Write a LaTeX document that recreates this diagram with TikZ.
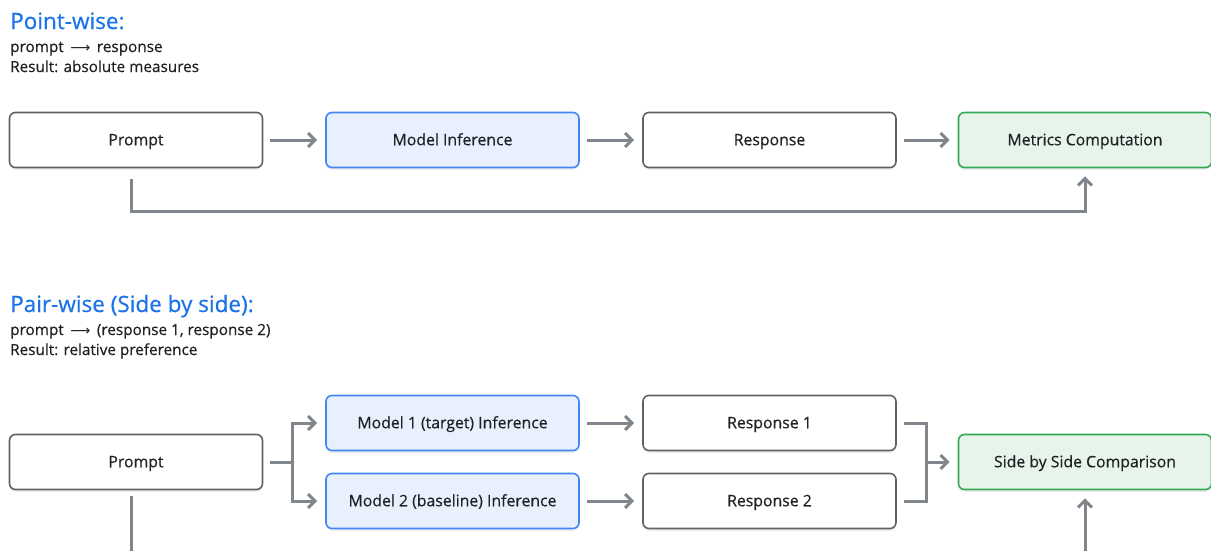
\documentclass[tikz,border=0pt]{standalone}
\usepackage{fontspec}
\setmainfont{Open Sans}
\newfontfamily\medfont{Open Sans}[FakeBold=0.5]
\newfontfamily\arrowfont{DejaVu Sans}
\usetikzlibrary{arrows.meta,shadows}

\definecolor{linegray}{HTML}{80868B}
\definecolor{boxgray}{HTML}{5F6368}
\definecolor{inkgray}{HTML}{202124}
\definecolor{titleblue}{HTML}{1A73E8}
\definecolor{modelblue}{HTML}{4285F4}
\definecolor{modelfill}{HTML}{E8F0FE}
\definecolor{metricgreen}{HTML}{34A853}
\definecolor{metricfill}{HTML}{E6F4EA}

\newcommand{\flowarrow}{\,{\arrowfont\fontsize{14}{16}\selectfont ⟶}\,}

\tikzset{
	box/.style={rectangle,rounded corners=6pt,draw=boxgray,line width=1.6pt,
		fill=white,minimum width=253pt,minimum height=55pt,text=inkgray,
		text height=11pt,text depth=0.5pt,
		font=\medfont\fontsize{15.8}{18}\selectfont,
		drop shadow={opacity=0.12,shadow xshift=0pt,shadow yshift=-2.5pt}},
	modelbox/.style={box,draw=modelblue,fill=modelfill},
	metricbox/.style={box,draw=metricgreen,fill=metricfill},
	stem/.style={draw=linegray,line width=3pt,shorten <=7pt},
	link/.style={stem,-{Straight Barb[length=7pt,width=14pt,line width=3pt]},shorten >=8pt},
	title/.style={anchor=base west,inner sep=0pt,text=titleblue,font=\medfont\fontsize{22.5}{26}\selectfont},
	note/.style={anchor=base west,inner sep=0pt,text=inkgray,font=\medfont\fontsize{15.3}{18}\selectfont}
}

\begin{document}
\begin{tikzpicture}[x=1pt,y=-1pt]
	\clip (0,0) rectangle (1211,550);
	\fill[white] (0,0) rectangle (1211,550);

	% point-wise
		\node[title] (pwtitle) at (10,29) {Point-wise:};
		\node[note] (pwflow) at (10,52) {prompt \flowarrow{} response};
		\node[note] (pwres) at (10,72) {Result: absolute measures};

		\node[box] (prompt) at (136,140) {Prompt};
		\node[modelbox] (model) at (452.5,140) {Model Inference};
		\node[box] (resp) at (769.5,140) {Response};
		\node[metricbox] (metrics) at (1085,140) {Metrics Computation};

		\path[link] (prompt) edge (model);
		\path[link] (model) edge (resp);
		\path[link] (resp) edge (metrics);
		\draw[link,shorten <=11pt] ([xshift=-5pt]prompt.south) -- ++(0,43) -| (metrics.south);

	% pair-wise
		\node[title] (sbstitle) at (10,312) {Pair-wise (Side by side):};
		\node[note] (sbsflow) at (10,335) {prompt \flowarrow{} (response 1, response 2)};
		\node[note] (sbsres) at (10,355) {Result: relative preference};

		\node[box] (prompt2) at (136,462) {Prompt};
		\node[modelbox] (model1) at (452.5,423) {Model 1 (target) Inference};
		\node[modelbox] (model2) at (452.5,501) {Model 2 (baseline) Inference};
		\node[box] (resp1) at (769.5,423) {Response 1};
		\node[box] (resp2) at (769.5,501) {Response 2};
		\node[metricbox] (sbs) at (1085,462) {Side by Side Comparison};

		\coordinate (fork) at (292,462);
		\coordinate (merge) at (926,462);
		\coordinate (offl) at (131,560);
		\coordinate (offr) at (1085,560);

		\draw[stem] (prompt2) -- (fork);
		\draw[link,shorten <=0pt] (fork) |- (model1);
		\draw[link,shorten <=0pt] (fork) |- (model2);
		\path[link] (model1) edge (resp1);
		\path[link] (model2) edge (resp2);
		\draw[stem] (resp1) -| (merge);
		\draw[stem] (resp2) -| (merge);
		\draw[link,shorten <=0pt] (merge) -- (sbs);
		\draw[stem,shorten <=6pt] ([xshift=-5pt]prompt2.south) -- (offl);
		\draw[link,shorten <=0pt] (offr) -- (sbs.south);

\end{tikzpicture}
\end{document}
